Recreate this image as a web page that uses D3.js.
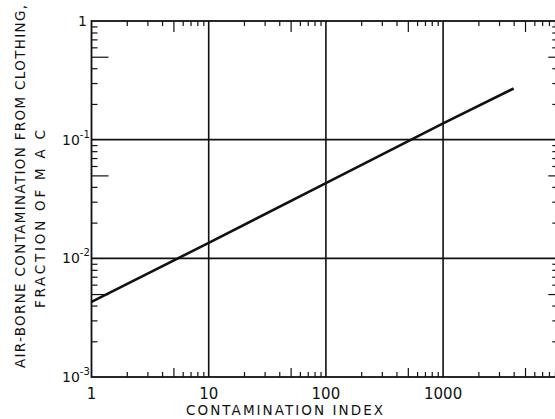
<!DOCTYPE html>
<html>
<head>
<meta charset="utf-8">
<script src="https://cdn.jsdelivr.net/npm/d3@7"></script>
<style>
  html, body { margin: 0; padding: 0; background: #fff; }
  svg { display: block; }
  text { font-family: "DejaVu Sans", sans-serif; fill: #111; }
</style>
</head>
<body>
<svg id="chart" width="555" height="419"></svg>
<script>
// Contamination index vs. air-borne contamination (fraction of MAC)
const contaminationIndex = [1, 10, 100, 1000, 4000];
const fractionOfMAC      = [0.0043, 0.0135, 0.043, 0.137, 0.27];

const xTickValues = [1, 10, 100, 1000];
const xTickLabels = ["1", "10", "100", "1000"];
const yTickValues = [1, 0.1, 0.01, 0.001];
const yTickExponents = ["", "-1", "-2", "-3"];

const xGridValues = [10, 100, 1000];
const yGridValues = [0.1, 0.01];

const xTitle = "CONTAMINATION INDEX";
const yTitle1 = "AIR-BORNE CONTAMINATION FROM CLOTHING,";
const yTitle2 = "FRACTION  OF  M A C";

const svg = d3.select("#chart");

const x = d3.scaleLog().domain([1, 1e4]).range([91.5, 560.3]);
const y = d3.scaleLog().domain([1e-3, 1]).range([377, 21]);

const plotLeft = x(1), plotRight = x(1e4), plotTop = y(1), plotBottom = y(1e-3);

// minor ticks: 2..9 in each decade, the "5" ticks drawn longer
const minorX = [], midX = [];
for (let d = 1; d < 1e4; d *= 10) for (let k = 2; k <= 9; k++) (k === 5 ? midX : minorX).push(k * d);
const minorY = [], midY = [];
for (let d = 1e-3; d < 0.99; d *= 10) for (let k = 2; k <= 9; k++) (k === 5 ? midY : minorY).push(+(k * d).toPrecision(3));

function tickAxis(gen, transform, values, size) {
  const g = svg.append("g").attr("transform", transform)
    .call(gen.tickValues(values).tickSize(size).tickFormat(""));
  g.select(".domain").remove();
  g.selectAll(".tick line").attr("stroke", "#111").attr("stroke-width", 1.2);
  return g;
}

// inward ticks on all four sides
tickAxis(d3.axisBottom(x), `translate(0,${plotBottom})`, minorX, -5);
tickAxis(d3.axisBottom(x), `translate(0,${plotBottom})`, midX, -9);
tickAxis(d3.axisTop(x), `translate(0,${plotTop})`, minorX, -5);
tickAxis(d3.axisTop(x), `translate(0,${plotTop})`, midX, -11);
tickAxis(d3.axisLeft(y), `translate(${plotLeft},0)`, minorY, -6);
tickAxis(d3.axisLeft(y), `translate(${plotLeft},0)`, midY, -17);
tickAxis(d3.axisRight(y), `translate(${plotRight - 4},0)`, minorY, -4);
tickAxis(d3.axisRight(y), `translate(${plotRight - 4},0)`, midY, -8);

// grid lines at the decades
svg.append("g").selectAll("line").data(xGridValues).join("line")
  .attr("x1", d => x(d)).attr("x2", d => x(d))
  .attr("y1", plotTop).attr("y2", plotBottom)
  .attr("stroke", "#111").attr("stroke-width", 1.6);
svg.append("g").selectAll("line").data(yGridValues).join("line")
  .attr("x1", plotLeft).attr("x2", plotRight)
  .attr("y1", d => y(d)).attr("y2", d => y(d))
  .attr("stroke", "#111").attr("stroke-width", 1.6);

// frame
svg.append("rect")
  .attr("x", plotLeft).attr("y", plotTop)
  .attr("width", plotRight - 4 - plotLeft).attr("height", plotBottom - plotTop)
  .attr("fill", "none").attr("stroke", "#111").attr("stroke-width", 1.8);

// x tick labels
svg.append("g").selectAll("text").data(xTickValues).join("text")
  .attr("x", d => x(d)).attr("y", 399)
  .attr("text-anchor", "middle").attr("font-size", 15)
  .text((d, i) => xTickLabels[i]);

// y tick labels (powers of ten)
const yl = svg.append("g").selectAll("text").data(yTickValues).join("text")
  .attr("y", d => y(d) + 5)
  .attr("font-size", 14);
yl.each(function(d, i) {
  const t = d3.select(this);
  if (i === 0) {
    t.attr("x", 87).attr("text-anchor", "end").text("1");
  } else {
    t.attr("x", 62).attr("text-anchor", "start");
    t.append("tspan").text("10");
    t.append("tspan").attr("dy", -7).attr("font-size", 10).text(yTickExponents[i]);
  }
});

// the curve
const line = d3.line().x((d, i) => x(contaminationIndex[i])).y(d => y(d));
svg.append("path").datum(fractionOfMAC)
  .attr("d", line)
  .attr("fill", "none").attr("stroke", "#111").attr("stroke-width", 2.6);

// axis titles
svg.append("text")
  .attr("x", 186).attr("y", 415)
  .attr("font-size", 13.5)
  .attr("textLength", 197).attr("lengthAdjust", "spacing")
  .text(xTitle);

svg.append("text")
  .attr("transform", "translate(25,368) rotate(-90)")
  .attr("font-size", 13.5)
  .attr("textLength", 363).attr("lengthAdjust", "spacing")
  .text(yTitle1);

svg.append("text")
  .attr("transform", "translate(45,308) rotate(-90)")
  .attr("font-size", 13.5)
  .attr("textLength", 178).attr("lengthAdjust", "spacing")
  .text(yTitle2);
</script>
</body>
</html>
